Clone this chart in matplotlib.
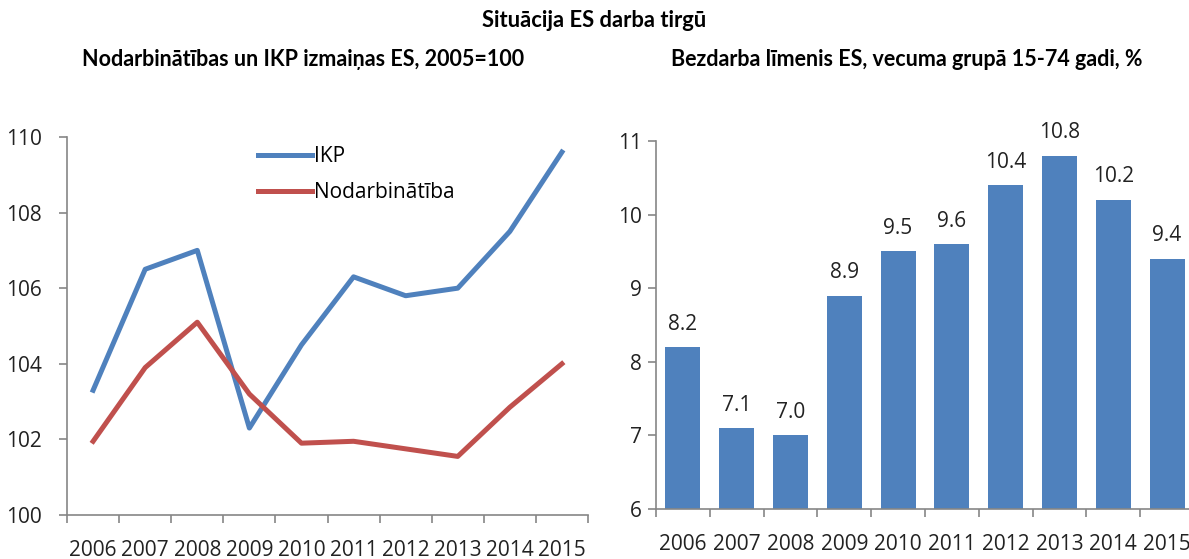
import matplotlib
matplotlib.use("Agg")
import matplotlib.pyplot as plt
import numpy as np

years = ["2006", "2007", "2008", "2009", "2010", "2011", "2012", "2013", "2014", "2015"]
ikp = [103.3, 106.5, 107.0, 102.3, 104.5, 106.3, 105.8, 106.0, 107.5, 109.6]
nodarb = [101.95, 103.9, 105.1, 103.2, 101.9, 101.95, 101.75, 101.55, 102.85, 104.0]
bezdarbs = [8.2, 7.1, 7.0, 8.9, 9.5, 9.6, 10.4, 10.8, 10.2, 9.4]

blue = "#4F81BD"
red = "#C0504D"
axis_grey = "#868686"

plt.rcParams["font.family"] = ["Open Sans", "DejaVu Sans"]
title_font = ["Lato", "DejaVu Sans"]

fig = plt.figure(figsize=(11.89, 5.59), dpi=100)

x = np.arange(len(years))


def style_axes(ax, ypad=4):
    for s in ["top", "right"]:
        ax.spines[s].set_visible(False)
    for s in ["left", "bottom"]:
        ax.spines[s].set_color(axis_grey)
        ax.spines[s].set_linewidth(1.2)
    ax.set_xlim(-0.5, len(years) - 0.5)
    ax.set_xticks(x)
    ax.set_xticklabels(years)
    ax.set_xticks(np.arange(-0.5, len(years)), minor=True)
    ax.tick_params(axis="x", which="major", length=0, pad=18, labelsize=15, colors="#222222")
    ax.tick_params(axis="x", which="minor", length=6, width=1.2, color=axis_grey)
    ax.tick_params(axis="y", length=6, width=1.2, color=axis_grey, labelsize=15,
                   labelcolor="#222222", pad=ypad)


# left: line chart
ax1 = fig.add_axes([0.0564, 0.0787, 0.4381, 0.6763])
ax1.plot(x, ikp, color=blue, lw=3.6, label="IKP")
ax1.plot(x, nodarb, color=red, lw=3.6, label="Nodarbinātība")
ax1.set_ylim(100, 110)
ax1.set_yticks([100, 102, 104, 106, 108, 110])
style_axes(ax1, ypad=12)
ax1.legend(loc="upper left", bbox_to_anchor=(0.33, 1.025), frameon=False, fontsize=15,
           handlelength=2.6, handletextpad=0.1, labelspacing=0.7)

# right: bar chart
ax2 = fig.add_axes([0.5517, 0.0894, 0.4525, 0.6584])
ax2.bar(x, bezdarbs, width=0.65, color=blue, bottom=0)
ax2.set_ylim(6, 11)
ax2.set_yticks([6, 7, 8, 9, 10, 11])
style_axes(ax2)
for xi, v in zip(x, bezdarbs):
    ax2.annotate(f"{v:.1f}", (xi, v), xytext=(0, 9), textcoords="offset points",
                 ha="center", va="bottom", fontsize=15, color="#222222",
                 annotation_clip=False)

fig.text(0.5, 0.963, "Situācija ES darba tirgū", ha="center", va="center",
         fontsize=15.8, fontweight="bold", family=title_font)
fig.text(0.255, 0.893, "Nodarbinātības un IKP izmaiņas ES, 2005=100", ha="center",
         va="center", fontsize=15.5, fontweight="bold", family=title_font)
fig.text(0.763, 0.893, "Bezdarba līmenis ES, vecuma grupā 15-74 gadi, %", ha="center",
         va="center", fontsize=15.5, fontweight="bold", family=title_font)

fig.savefig("out.png", dpi=100)
